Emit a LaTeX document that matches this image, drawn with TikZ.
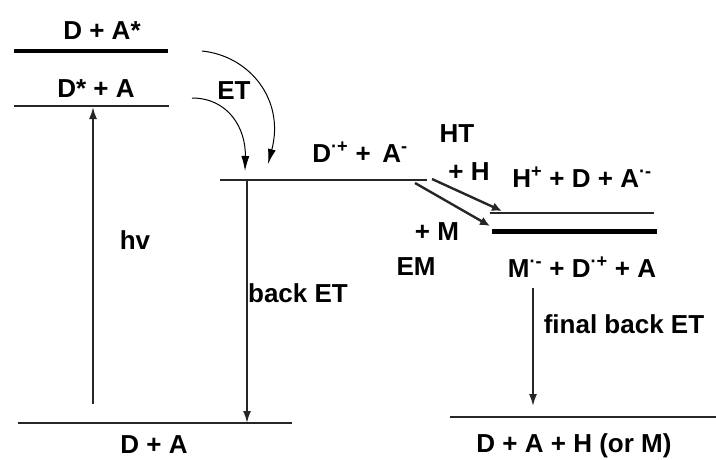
\documentclass[tikz,border=0pt]{standalone}
\usepackage{fontspec}
\setmainfont{Liberation Sans}
\usetikzlibrary{arrows.meta}
\begin{document}
\begin{tikzpicture}[x=1pt,y=-1pt,
  lvl/.style={line width=2pt, draw=black!85},
  lab/.style={anchor=base, inner sep=0pt, font=\fontsize{26}{30}\selectfont\bfseries},
  varrow/.style={line width=1.8pt, draw=black!85, -{Latex[length=12pt,width=8pt]}},
  etarrow/.style={line width=1pt, -{Latex[length=15pt,width=8pt]}},
  darrow/.style={line width=2.4pt, draw=black!85, -{Latex[length=10pt,width=9pt]}}]
\useasboundingbox (0,0) rectangle (716,459);
% levels
\coordinate (a1) at (14,51);  \coordinate (a2) at (168,51);
\coordinate (b1) at (14,106); \coordinate (b2) at (169,106);
\coordinate (c1) at (220,180); \coordinate (c2) at (427,180);
\coordinate (h1) at (490,213); \coordinate (h2) at (654,213);
\coordinate (m1) at (492,231); \coordinate (m2) at (657,231);
\coordinate (g1) at (18,423); \coordinate (g2) at (292,423);
\coordinate (f1) at (450,417); \coordinate (f2) at (716,417);
\draw[lvl, line width=4.5pt, draw=black] (a1) -- (a2);
\draw[lvl] (b1) -- (b2);
\draw[lvl] (c1) -- (c2);
\draw[lvl, line width=2.8pt] (h1) -- (h2);
\draw[lvl, line width=5pt, draw=black] (m1) -- (m2);
\draw[lvl] (g1) -- (g2);
\draw[lvl] (f1) -- (f2);
% arrow ends
\coordinate (hvs) at (93,404); \coordinate (hve) at (93,107);
\coordinate (bes) at (247,181); \coordinate (bee) at (247,423);
\coordinate (fbs) at (533,288); \coordinate (fbe) at (533,406);
\coordinate (e1s) at (192,98); \coordinate (e1e) at (245,171);
\coordinate (e2s) at (202,51); \coordinate (e2e) at (268,164);
\coordinate (hts) at (432,179); \coordinate (hte) at (502,211);
\coordinate (ems) at (415,183); \coordinate (eme) at (490,226);
\draw[varrow] (hvs) -- (hve);
\draw[varrow] (bes) -- (bee);
\draw[varrow] (fbs) -- (fbe);
\draw[etarrow] (e1s) .. controls (228,98) and (246,128) .. (e1e);
\draw[etarrow] (e2s) .. controls (250,56) and (285,100) .. (e2e);
\draw[darrow] (hts) -- (hte);
\draw[darrow] (ems) -- (eme);
% labels
\node[lab] (tA) at (102,39) {D + A*};
\node[lab] (tB) at (96,97) {D* + A};
\node[lab] (tET) at (234,99) {ET};
\node[lab] (tC) at (360,162) {D\textsuperscript{·+} + \,A\textsuperscript{-}};
\node[lab] (tHT) at (457,142) {HT};
\node[lab] (tpH) at (469,180) {+ H};
\node[lab] (tH) at (582,187) {H\textsuperscript{+} + D + A\textsuperscript{·-}};
\node[lab] (tpM) at (437,240) {+ M};
\node[lab] (tEM) at (416,275) {EM};
\node[lab] (tM) at (582,277) {M\textsuperscript{·-} + D\textsuperscript{·+} + A};
\node[lab] (thv) at (135,249) {hv};
\node[lab] (tbe) at (298,302) {back ET};
\node[lab] (tfb) at (624,333) {final back ET};
\node[lab] (tG) at (154,453) {D + A};
\node[lab] (tF) at (574,452) {D + A + H (or M)};
\end{tikzpicture}
\end{document}
